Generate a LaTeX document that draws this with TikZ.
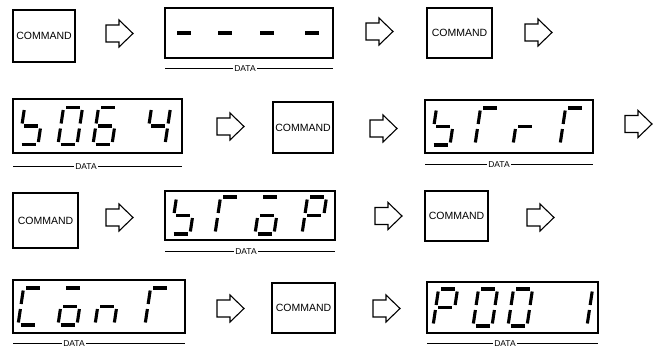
\documentclass[tikz,border=0pt]{standalone}
\usepackage{fontspec}
\setmainfont{Liberation Sans}
\tikzset{
  cmdbox/.style={draw, line width=1.1pt, minimum width=62pt, minimum height=52pt, inner sep=0pt, font=\fontsize{10.5}{12}\selectfont},
  dispbox/.style={draw, line width=1.7pt, inner sep=0pt},
  sevseg/.style={line width=3.1pt, line cap=butt},
  dataline/.style={line width=1pt},
  datalbl/.style={fill=white, inner sep=1.5pt, font=\fontsize{8.5}{10}\selectfont},
  blockarrow/.style={draw, line width=1.1pt, line join=miter},
}
\def\segPa{(2.5,37)--(16.5,37)}
\def\segPb{(19,34.5)--(19,21)}
\def\segPc{(19,16)--(19,2.5)}
\def\segPd{(2.5,0)--(16.5,0)}
\def\segPe{(0,2.5)--(0,16)}
\def\segPf{(0,21)--(0,34.5)}
\def\segPg{(2.5,18.5)--(16.5,18.5)}
% seven-segment character: x0, baseline y (pixel coords), segment list
\newcommand\ssd[3]{%
  \begin{scope}[shift={(#1,#2)},x=1pt,y=1pt,cm={1,0,0.15,1,(0,0)}]
    \foreach \s in {#3}{\edef\tmpseg{\noexpand\draw[sevseg] \csname segP\s\endcsname;}\tmpseg}
  \end{scope}}
% hollow block arrow: left x, centre y
\newcommand\harrow[2]{%
  \draw[blockarrow] (#1,#2) ++(0,-8.5) -- ++(13,0) -- ++(0,-5) -- ++(14,13.5) -- ++(-14,13.5) -- ++(0,-5) -- ++(-13,0) -- cycle;}
\begin{document}
\begin{tikzpicture}[x=1pt,y=-1pt]
\useasboundingbox (0,0) rectangle (659,347);
% ---------- row 1
\node[cmdbox] (c1) at (44,36) {COMMAND};
\harrow{106}{33.5}
\node[dispbox, minimum width=168pt, minimum height=50pt] (d1) at (249,33) {};
\ssd{172}{51.5}{g}\ssd{213}{51.5}{g}\ssd{255}{51.5}{g}\ssd{300}{51.5}{g}
\coordinate (d1l) at (165,69); \coordinate (d1r) at (333,69);
\draw[dataline] (d1l) -- (d1r);
\node[datalbl] (t1) at (245,69) {DATA};
\harrow{366}{31.5}
\node[cmdbox, minimum width=65pt, minimum height=50pt] (c2) at (459.5,33) {COMMAND};
\harrow{525}{32.5}
% ---------- row 2
\node[dispbox, minimum width=169pt, minimum height=54pt] (d2) at (97.5,126) {};
\ssd{19}{144.5}{f,g,c,d}\ssd{58}{144.5}{a,b,c,d,e,f}\ssd{93}{144.5}{a,f,g,e,c,d}\ssd{146}{144.5}{f,g,b,c}
\coordinate (d2l) at (13,167); \coordinate (d2r) at (182,167);
\draw[dataline] (d2l) -- (d2r);
\node[datalbl] (t2) at (86,167) {DATA};
\harrow{217}{126.5}
\node[cmdbox, minimum width=60pt, minimum height=51pt] (c3) at (303,127.5) {COMMAND};
\harrow{370}{128.5}
\node[dispbox, minimum width=168pt, minimum height=53pt] (d3) at (509,126.5) {};
\ssd{431}{145}{f,g,c,d}\ssd{475}{145}{a,f,e}\ssd{513}{145}{e,g}\ssd{560}{145}{a,f,e}
\coordinate (d3l) at (425,165); \coordinate (d3r) at (593,165);
\draw[dataline] (d3l) -- (d3r);
\node[datalbl] (t3) at (499,165) {DATA};
\harrow{625}{124}
% ---------- row 3
\node[cmdbox, minimum width=65pt, minimum height=55pt] (c4) at (45.5,220.5) {COMMAND};
\harrow{106}{217.5}
\node[dispbox, minimum width=170pt, minimum height=49pt] (d4) at (250,215.5) {};
\ssd{171}{234}{f,g,c,d}\ssd{215}{234}{a,f,e}\ssd{255}{234}{a,g,c,d,e}\ssd{302}{234}{a,b,f,g,e}
\coordinate (d4l) at (165,252); \coordinate (d4r) at (335,252);
\draw[dataline] (d4l) -- (d4r);
\node[datalbl] (t4) at (246,252) {DATA};
\harrow{375}{216}
\node[cmdbox, minimum width=63pt, minimum height=50pt] (c5) at (456.5,216) {COMMAND};
\harrow{527}{217.5}
% ---------- row 4
\node[dispbox, minimum width=172pt, minimum height=53pt] (d5) at (99,306.5) {};
\ssd{18}{325}{a,f,e,d}\ssd{58}{325}{a,g,c,d,e}\ssd{95}{325}{e,g,c}\ssd{145}{325}{a,f,e}
\coordinate (d5l) at (13,343.5); \coordinate (d5r) at (185,343.5);
\draw[dataline] (d5l) -- (d5r);
\node[datalbl] (t5) at (74,343.5) {DATA};
\harrow{217}{308.5}
\node[cmdbox, minimum width=63pt, minimum height=50pt] (c6) at (303.5,308) {COMMAND};
\harrow{373}{308.5}
\node[dispbox, minimum width=171pt, minimum height=51pt] (d6) at (512.5,307.5) {};
\ssd{433}{326}{a,b,f,g,e}\ssd{473}{326}{a,b,c,d,e,f}\ssd{508}{326}{a,b,c,d,e,f}\ssd{568}{326}{b,c}
\coordinate (d6l) at (427,343.5); \coordinate (d6r) at (598,343.5);
\draw[dataline] (d6l) -- (d6r);
\node[datalbl] (t6) at (505,343.5) {DATA};
\end{tikzpicture}
\end{document}
